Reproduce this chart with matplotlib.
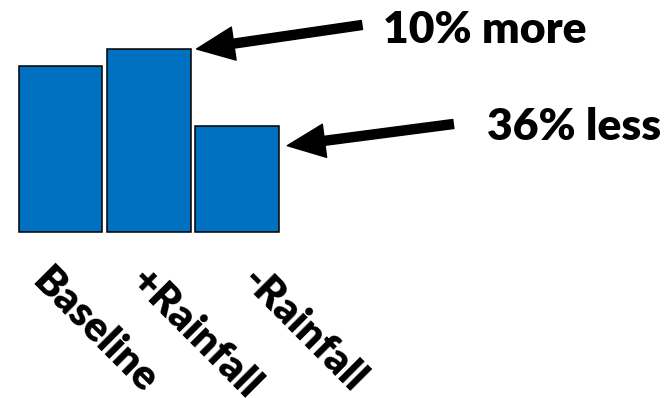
import matplotlib

matplotlib.use("Agg")
import matplotlib.pyplot as plt

# relative runoff for each scenario (baseline = 100)
scenarios = ["Baseline", "+Rainfall", "-Rainfall"]
baseline = 100.0
change_pct = [0, 10, -36]
values = [baseline * (1 + c / 100) for c in change_pct]
callouts = ["10% more", "36% less"]

BAR_COLOR = "#0070C0"
FONT = "Lato"

fig = plt.figure(figsize=(6.72, 3.98), dpi=100)
ax = fig.add_axes([0, 0, 1, 1])
ax.set_xlim(-0.684, 6.918)
ax.set_ylim(-99.4, 139.4)
ax.axis("off")

x = range(len(scenarios))
ax.bar(x, values, width=0.945, color=BAR_COLOR, edgecolor="black", linewidth=1.1)

# slanted category labels under the bars (nudged right, as laid out on the slide)
label_shift = [-0.1, 0.01, 0.28]
for i, name in enumerate(scenarios):
    ax.text(i + label_shift[i], -17, name, rotation=-45, rotation_mode="anchor",
            ha="left", va="top", fontsize=30, fontweight="heavy", family=FONT)

arrow = dict(arrowstyle="simple,head_width=2.4,head_length=2.7,tail_width=0.65",
             color="black", shrinkA=0, shrinkB=0, mutation_scale=10)

# +Rainfall callout
ax.annotate("", xy=(1.54, values[1]), xytext=(3.41, 124.4), arrowprops=arrow)
ax.text(3.645, 113.4, callouts[0], ha="left", va="baseline",
        fontsize=32, fontweight="heavy", family=FONT)

# -Rainfall callout
ax.annotate("", xy=(2.566, values[2] - 12), xytext=(4.444, 65.0), arrowprops=arrow)
ax.text(4.822, 55.4, callouts[1], ha="left", va="baseline",
        fontsize=32, fontweight="heavy", family=FONT)

fig.savefig("out.png", dpi=100)
